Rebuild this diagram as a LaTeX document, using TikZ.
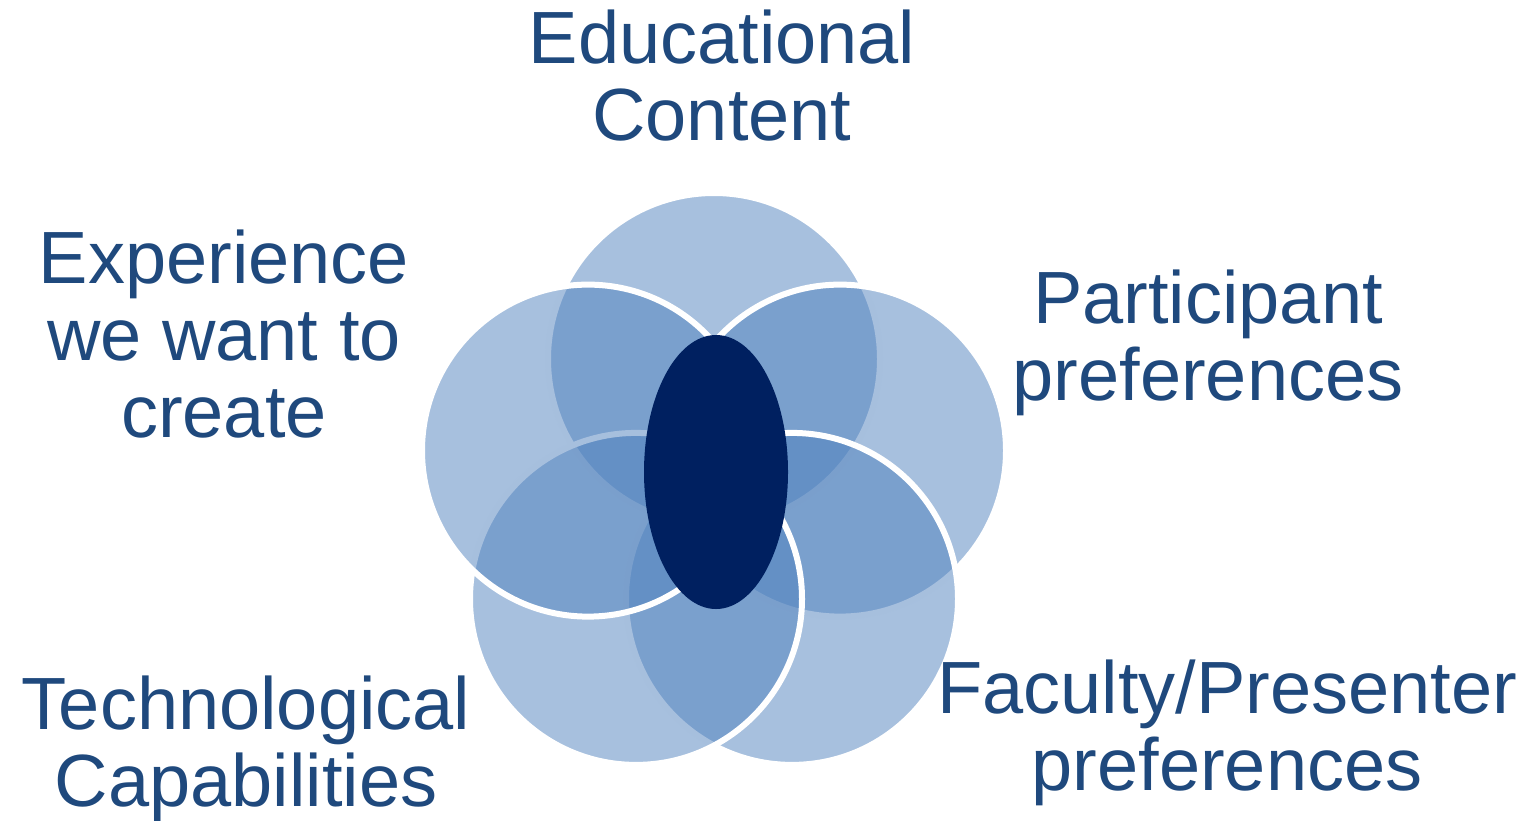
\documentclass[tikz,border=0pt]{standalone}
\usepackage{fontspec}
\setmainfont{Liberation Sans}
\definecolor{vennblue}{HTML}{4F81BD}
\definecolor{labelblue}{HTML}{1F497D}
\definecolor{corenavy}{HTML}{002060}
\begin{document}
\begin{tikzpicture}[x=0.5pt,y=-0.5pt,
  venn/.style={circle, minimum size=166pt, inner sep=0pt, fill=vennblue, fill opacity=0.5, draw=white, line width=3pt},
  lbl/.style={text=labelblue, inner sep=0pt, anchor=base, font=\fontsize{37}{38.5}\selectfont}]
\useasboundingbox (0,0) rectangle (1529,820);
% circles, drawn in order
\node[venn] (c1) at (714,359) {};
\node[venn] (c2) at (840,450.6) {};
\node[venn] (c3) at (792,598.9) {};
\node[venn] (c4) at (636,598.9) {};
\node[venn] (c5) at (588,450.6) {};
% central ellipse
\coordinate (core) at (716,472);
\fill[corenavy] (core) ellipse [x radius=36pt, y radius=68.5pt];
% labels
\node[lbl] (tEdu) at (722,63.5) {\def\arraystretch{1}\begin{tabular}[t]{@{}c@{}}Educational\\Content\end{tabular}};
\node[lbl] (tExp) at (224,283.5) {\def\arraystretch{1}\begin{tabular}[t]{@{}c@{}}Experience\\we want to\\create\end{tabular}};
\node[lbl] (tPar) at (1208,323) {\def\arraystretch{1}\begin{tabular}[t]{@{}c@{}}Participant\\preferences\end{tabular}};
\node[lbl] (tFac) at (1227,713) {\def\arraystretch{1}\begin{tabular}[t]{@{}c@{}}Faculty/Presenter\\preferences\end{tabular}};
\node[lbl] (tTec) at (246,729.5) {\def\arraystretch{1}\begin{tabular}[t]{@{}c@{}}Technological\\Capabilities\end{tabular}};
\end{tikzpicture}
\end{document}
